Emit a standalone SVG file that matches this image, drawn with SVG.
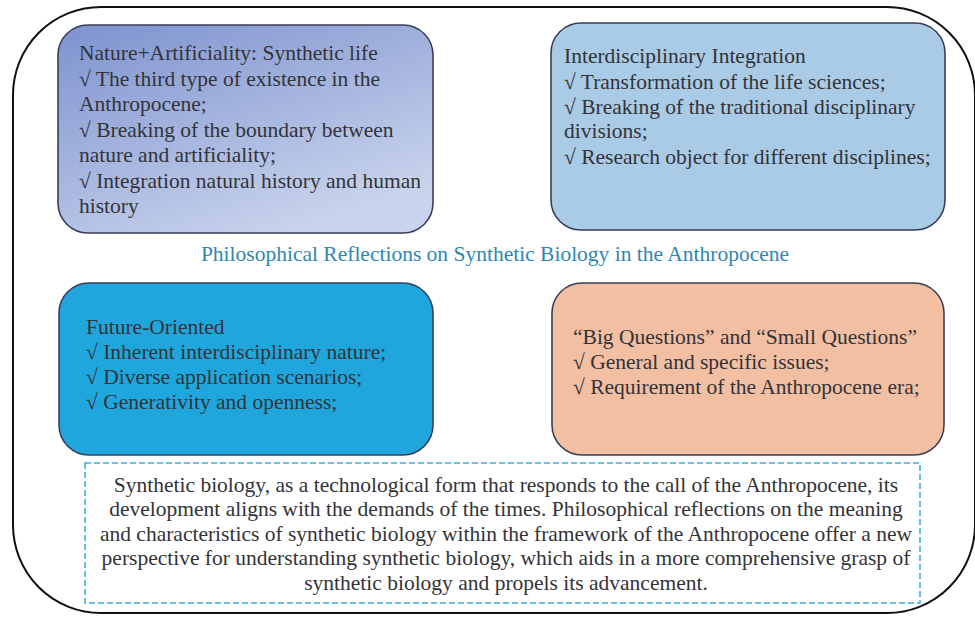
<svg xmlns="http://www.w3.org/2000/svg" width="975" height="617" viewBox="0 0 975 617">
<defs>
<linearGradient id="g1" x1="0" y1="0" x2="0.6" y2="1">
<stop offset="0" stop-color="#7d92cf"/>
<stop offset="1" stop-color="#c8d3ec"/>
</linearGradient>
</defs>
<style>
.box{stroke:#3a3e58;stroke-width:1.6}
text{font-size:21.5px;fill:#333338}
.d{text-anchor:middle}
.title{fill:#2f86b3;text-anchor:middle}
</style>
<rect x="13" y="7" width="962" height="606" rx="88" ry="88" fill="#ffffff" stroke="#111" stroke-width="2"/>
<g font-family="Liberation Serif, Times New Roman, serif">
<g id="node-synthetic-life">
<rect class="box" x="58" y="25" width="375" height="208" rx="30" fill="url(#g1)"/>
<text x="79" y="60">Nature+Artificiality: Synthetic life</text>
<text x="79" y="86">√ The third type of existence in the</text>
<text x="79" y="111">Anthropocene;</text>
<text x="79" y="137">√ Breaking of the boundary between</text>
<text x="79" y="162">nature and artificiality;</text>
<text x="79" y="188">√ Integration natural history and human</text>
<text x="79" y="213">history</text>
</g>
<g id="node-interdisciplinary">
<rect class="box" x="551" y="23" width="394" height="207" rx="30" fill="#a9cbe6"/>
<text x="564" y="63">Interdisciplinary Integration</text>
<text x="564" y="89">√ Transformation of the life sciences;</text>
<text x="564" y="114">√ Breaking of the traditional disciplinary</text>
<text x="564" y="138">divisions;</text>
<text x="564" y="164">√ Research object for different disciplines;</text>
</g>
<g id="node-title">
<text class="title" x="495" y="261">Philosophical Reflections on Synthetic Biology in the Anthropocene</text>
</g>
<g id="node-future">
<rect class="box" x="59" y="283" width="374" height="172" rx="30" fill="#1fa6dd"/>
<text x="86" y="334">Future-Oriented</text>
<text x="86" y="359">√ Inherent interdisciplinary nature;</text>
<text x="86" y="384">√ Diverse application scenarios;</text>
<text x="86" y="409">√ Generativity and openness;</text>
</g>
<g id="node-questions">
<rect class="box" x="552" y="283" width="392" height="172" rx="30" fill="#f2bfa3"/>
<text x="573" y="344">“Big Questions” and “Small Questions”</text>
<text x="573" y="369">√ General and specific issues;</text>
<text x="573" y="394">√ Requirement of the Anthropocene era;</text>
</g>
<g id="node-summary">
<rect x="85" y="463" width="835" height="140" fill="#ffffff" stroke="#3fb0da" stroke-width="1.6" stroke-dasharray="6,3"/>
<text class="d" x="506" y="492">Synthetic biology, as a technological form that responds to the call of the Anthropocene, its</text>
<text class="d" x="506" y="516">development aligns with the demands of the times. Philosophical reflections on the meaning</text>
<text class="d" x="506" y="541">and characteristics of synthetic biology within the framework of the Anthropocene offer a new</text>
<text class="d" x="506" y="565">perspective for understanding synthetic biology, which aids in a more comprehensive grasp of</text>
<text class="d" x="506" y="590">synthetic biology and propels its advancement.</text>
</g>
</g>
<g id="connectors"></g>
</svg>
